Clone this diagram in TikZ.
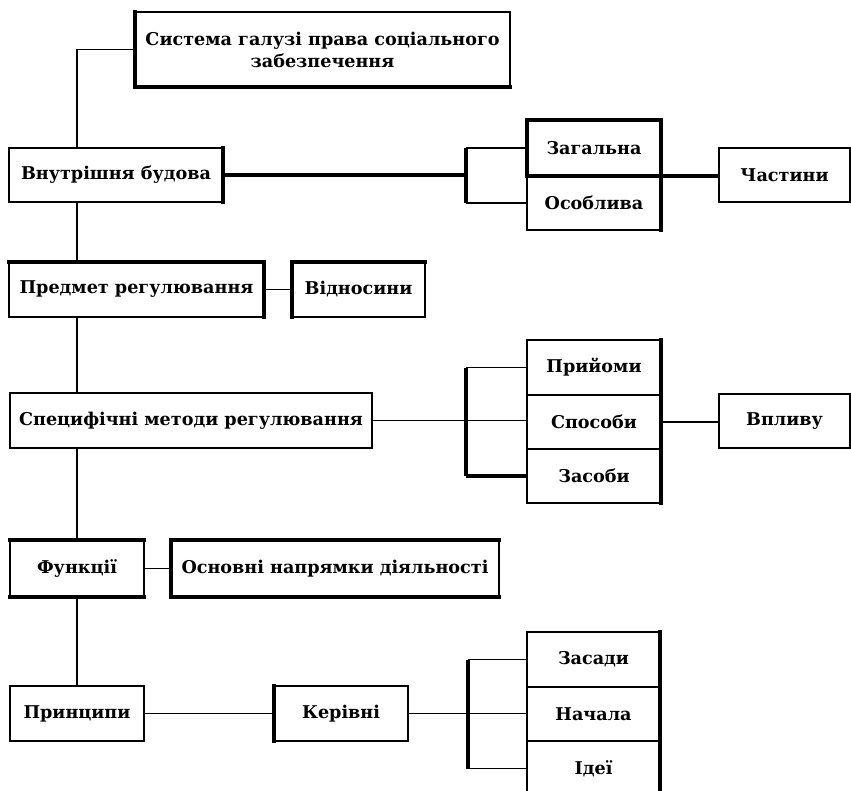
\documentclass[tikz,border=0pt]{standalone}
\usepackage{fontspec}
\setmainfont{DejaVu Serif}
\begin{document}
\begin{tikzpicture}[x=1pt,y=-1pt,
  box/.style={draw, line width=1.8pt, inner sep=0pt, outer sep=0pt, anchor=north west, align=center,
    font=\fontsize{17.6}{22}\selectfont\bfseries},
  conn/.style={line width=1.8pt},
  heavy/.style={line width=3.6pt},
  side/.style={line width=3.6pt, line cap=rect}]
\useasboundingbox (0,0) rectangle (851,791);
% nodes
\node[box, minimum width=375pt, minimum height=75pt] (top) at (135,12) {Система галузі права соціального\\забезпечення};
\node[box, minimum width=214pt, minimum height=54pt] (vb) at (9,148) {Внутрішня будова};
\node[box, minimum width=134pt, minimum height=56pt] (zag) at (527,120) {Загальна};
\node[box, minimum width=134pt, minimum height=54pt] (osob) at (527,176) {Особлива};
\node[box, minimum width=131pt, minimum height=54pt] (chast) at (719,148) {Частини};
\node[box, minimum width=255pt, minimum height=55pt] (pred) at (9,262) {Предмет регулювання};
\node[box, minimum width=133pt, minimum height=55pt] (vidn) at (292,262) {Відносини};
\node[box, minimum width=362pt, minimum height=55pt] (spec) at (10,393) {Специфічні методи регулювання};
\node[box, minimum width=134pt, minimum height=55pt] (pryi) at (527,340) {Прийоми};
\node[box, minimum width=134pt, minimum height=54pt] (spos) at (527,395) {Способи};
\node[box, minimum width=134pt, minimum height=54pt] (zasob) at (527,449) {Засоби};
\node[box, minimum width=131pt, minimum height=54pt] (vplyv) at (719,394) {Впливу};
\node[box, minimum width=134pt, minimum height=57pt] (func) at (10,540) {Функції};
\node[box, minimum width=328pt, minimum height=57pt] (osn) at (171,540) {Основні напрямки діяльності};
\node[box, minimum width=134pt, minimum height=55pt] (princ) at (10,686) {Принципи};
\node[box, minimum width=134pt, minimum height=55pt] (keriv) at (274,686) {Керівні};
\node[box, minimum width=133pt, minimum height=55pt] (zasady) at (527,632) {Засади};
\node[box, minimum width=133pt, minimum height=54pt] (nach) at (527,687) {Начала};
\node[box, minimum width=133pt, minimum height=55pt] (idei) at (527,741) {Ідеї};
% spine and bracket coordinates
\coordinate (sp) at (77,0);
\coordinate (b1) at (466,0);
\coordinate (b2) at (466,0);
\coordinate (b3) at (468,0);
% heavy sides
\draw[side] (top.north west) -- (top.south west) -- (top.south east);
\draw[side] (vb.north east) -- (vb.south east);
\draw[side] (zag.south west) -- (zag.north west) -- (zag.north east) -- (osob.south east);
\draw[side] (zag.south west) -- (zag.south east);
\draw[side] (pred.north west) -- (pred.north east) -- (pred.south east);
\draw[side] (vidn.south west) -- (vidn.north west) -- (vidn.north east);
\draw[side] (pryi.north east) -- (zasob.south east);
\draw[side] (func.north west) -- (func.north east);
\draw[side] (func.south west) -- (func.south east);
\draw[side] (osn.north east) -- (osn.north west) -- (osn.south west) -- (osn.south east);
\draw[side] (keriv.north west) -- (keriv.south west);
\draw[side] (zasady.north east) -- (idei.south east);
% spine
\draw[conn] (top.west) -| (sp |- vb.north);
\draw[conn] (sp |- vb.south) -- (sp |- pred.north);
\draw[conn] (sp |- pred.south) -- (sp |- spec.north);
\draw[conn] (sp |- spec.south) -- (sp |- func.north);
\draw[conn] (sp |- func.south) -- (sp |- princ.north);
% group 1
\draw[heavy] (vb.east) -- (b1 |- vb.east);
\draw[heavy] (b1 |- zag.west) -- (b1 |- osob.west);
\draw[conn] (b1 |- zag.west) -- (zag.west);
\draw[conn] (b1 |- osob.west) -- (osob.west);
\draw[heavy] (zag.south east) -- (zag.south east -| chast.west);
% group 2
\draw[conn] (pred.east) -- (vidn.west);
\draw[conn] (spec.east) -- (b2 |- spec.east);
\draw[heavy] (b2 |- pryi.west) -- (b2 |- zasob.west);
\draw[conn] (b2 |- pryi.west) -- (pryi.west);
\draw[conn] (b2 |- spec.east) -- (spec.east -| spos.west);
\draw[heavy] (b2 |- zasob.west) -- (zasob.west);
\draw[conn] (spos.east) -- (spos.east -| vplyv.west);
% group 3
\draw[conn] (func.east) -- (osn.west);
\draw[conn] (princ.east) -- (keriv.west);
\draw[conn] (keriv.east) -- (b3 |- keriv.east);
\draw[heavy] (b3 |- zasady.west) -- (b3 |- idei.west);
\draw[conn] (b3 |- zasady.west) -- (zasady.west);
\draw[conn] (b3 |- keriv.east) -- (keriv.east -| nach.west);
\draw[conn] (b3 |- idei.west) -- (idei.west);
\end{tikzpicture}
\end{document}
